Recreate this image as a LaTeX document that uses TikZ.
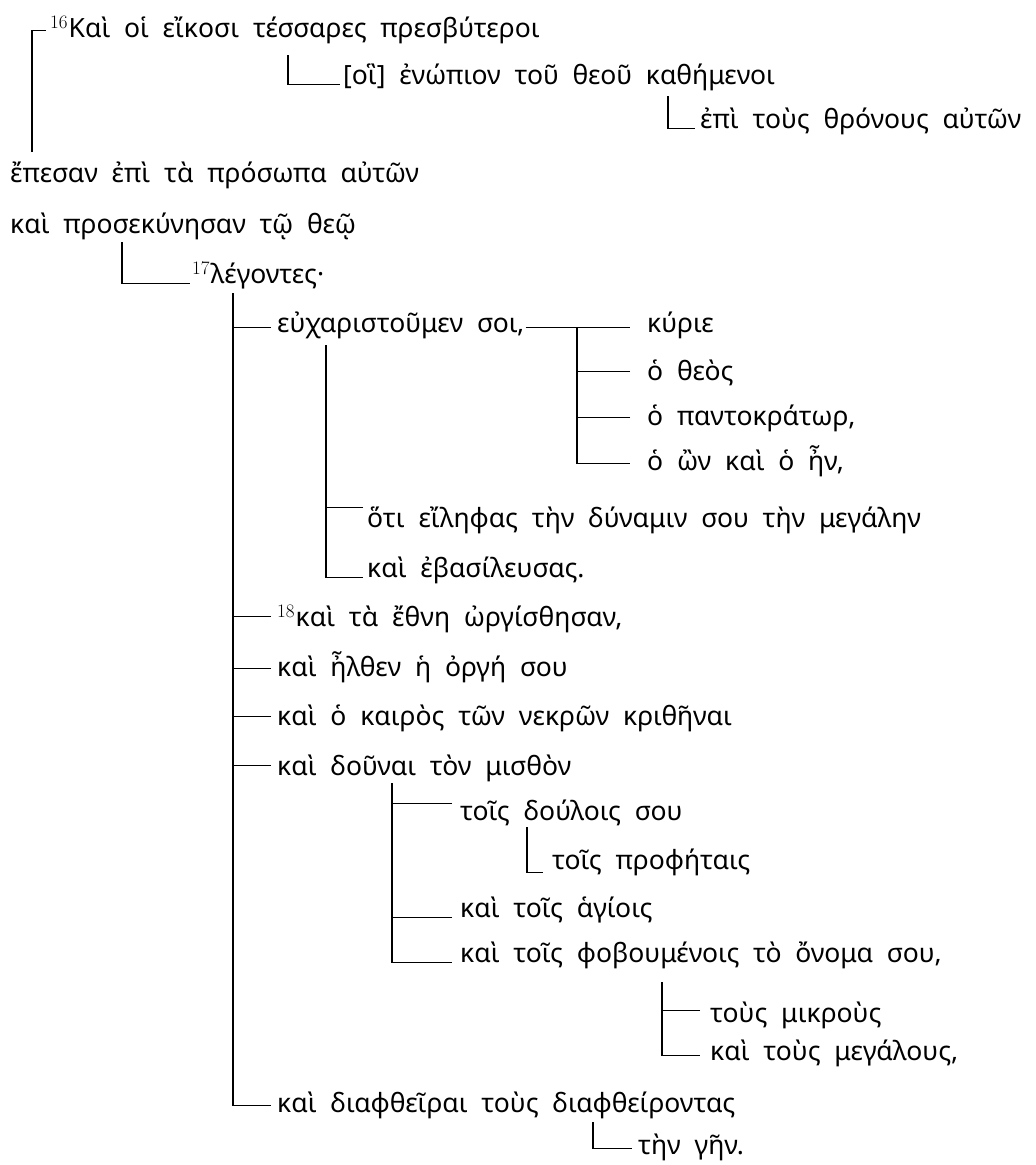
\documentclass[tikz,border=0pt]{standalone}
\usepackage{fontspec}
\newfontfamily\gk{Noto Sans}[WordSpace=2]
% verse numbers, raised and in the serif face
\newcommand\vnum[1]{\raisebox{9pt}{\fontsize{19}{19}\selectfont\rmfamily #1}\hspace{1pt}}
\begin{document}
\begin{tikzpicture}[x=1pt,y=-1pt,
  t/.style={anchor=base west, inner sep=0pt, font=\gk\fontsize{26.5}{26.5}\selectfont},
  br/.style={line width=1.6pt, line join=miter}]
\useasboundingbox (0,0) rectangle (1036,1165);

% clauses (x = start of text, y = baseline)
\node[t] (n1) at (50,37.5) {\vnum{16}Καὶ οἱ εἴκοσι τέσσαρες πρεσβύτεροι};
\node[t] (n2) at (343,84.5) {[οἳ] ἐνώπιον τοῦ θεοῦ καθήμενοι};
\node[t] (n3) at (700,128.5) {ἐπὶ τοὺς θρόνους αὐτῶν};
\node[t] (n4) at (10,182.5) {ἔπεσαν ἐπὶ τὰ πρόσωπα αὐτῶν};
\node[t] (n5) at (10,233.5) {καὶ προσεκύνησαν τῷ θεῷ};
\node[t] (n6) at (192,283.5) {\vnum{17}λέγοντες·};
\node[t] (n7) at (277,332.5) {εὐχαριστοῦμεν σοι,};
\node[t] (k1) at (647,332.5) {κύριε};
\node[t] (k2) at (647,380.5) {ὁ θεὸς};
\node[t] (k3) at (647,425.5) {ὁ παντοκράτωρ,};
\node[t] (k4) at (647,470.5) {ὁ ὢν καὶ ὁ ἦν,};
\node[t] (n11) at (367,527.5) {ὅτι εἴληφας τὴν δύναμιν σου τὴν μεγάλην};
\node[t] (n12) at (367,577.5) {καὶ ἐβασίλευσας.};
\node[t] (n13) at (277,626.5) {\vnum{18}καὶ τὰ ἔθνη ὠργίσθησαν,};
\node[t] (n14) at (277,676.5) {καὶ ἦλθεν ἡ ὀργή σου};
\node[t] (n15) at (277,725.5) {καὶ ὁ καιρὸς τῶν νεκρῶν κριθῆναι};
\node[t] (n16) at (277,775.5) {καὶ δοῦναι τὸν μισθὸν};
\node[t] (n17) at (460,820.5) {τοῖς δούλοις σου};
\node[t] (n18) at (552,869.5) {τοῖς προφήταις};
\node[t] (n19) at (460,917.5) {καὶ τοῖς ἁγίοις};
\node[t] (n20) at (460,962.5) {καὶ τοῖς φοβουμένοις τὸ ὄνομα σου,};
\node[t] (n21) at (710,1022.5) {τοὺς μικροὺς};
\node[t] (n22) at (710,1060.5) {καὶ τοὺς μεγάλους,};
\node[t] (n23) at (277,1112.5) {καὶ διαφθεῖραι τοὺς διαφθείροντας};
\node[t] (n24) at (638,1154.5) {τὴν γῆν.};

% where each connector meets its clause: gap before the text, height above the baseline
\foreach \n/\g/\h in {n1/4/7, n2/3/0, n3/5/0, n6/2/0,
                      n7/6/5, n13/6/10, n14/6/8, n15/6/9, n16/6/10, n23/6/7,
                      k1/17/5, k2/17/9, k3/17/8, k4/17/7,
                      n11/4/20, n12/4/0,
                      n17/8/17, n19/8/0, n20/8/0, n18/9/-3,
                      n21/10/12, n22/10/5, n24/6/6}
  \coordinate (\n-t) at ([shift={(-\g,-\h)}]\n.base west);

% tops of the vertical strokes
\coordinate (j1) at (32,152);
\coordinate (j2) at (288,55);
\coordinate (j3) at (668,96);
\coordinate (j6) at (122,242);
\coordinate (jm) at (233,293);
\coordinate (jk) at (577,328);
\coordinate (js) at (326,345);
\coordinate (jd) at (392,783);
\coordinate (jp) at (527,827);
\coordinate (jf) at (662,982);
\coordinate (jg) at (593,1122);

% connectors
\draw[br] (j1) |- (n1-t);
\draw[br] (j2) |- (n2-t);
\draw[br] (j3) |- (n3-t);
\draw[br] (j6) |- (n6-t);
\draw[br] (jm) |- (n23-t);
\foreach \n in {n7,n13,n14,n15,n16} \draw[br] (\n-t) -- (\n-t -| jm);
\draw[br] ([shift={(1,-5)}]n7.base east) -- (k1-t);
\draw[br] (jk) |- (k4-t);
\foreach \n in {k2,k3} \draw[br] (\n-t) -- (\n-t -| jk);
\draw[br] (js) |- (n12-t);
\draw[br] (n11-t) -- (n11-t -| js);
\draw[br] (jd) |- (n20-t);
\foreach \n in {n17,n19} \draw[br] (\n-t) -- (\n-t -| jd);
\draw[br] (jp) |- (n18-t);
\draw[br] (jf) |- (n22-t);
\draw[br] (n21-t) -- (n21-t -| jf);
\draw[br] (jg) |- (n24-t);
\end{tikzpicture}
\end{document}
